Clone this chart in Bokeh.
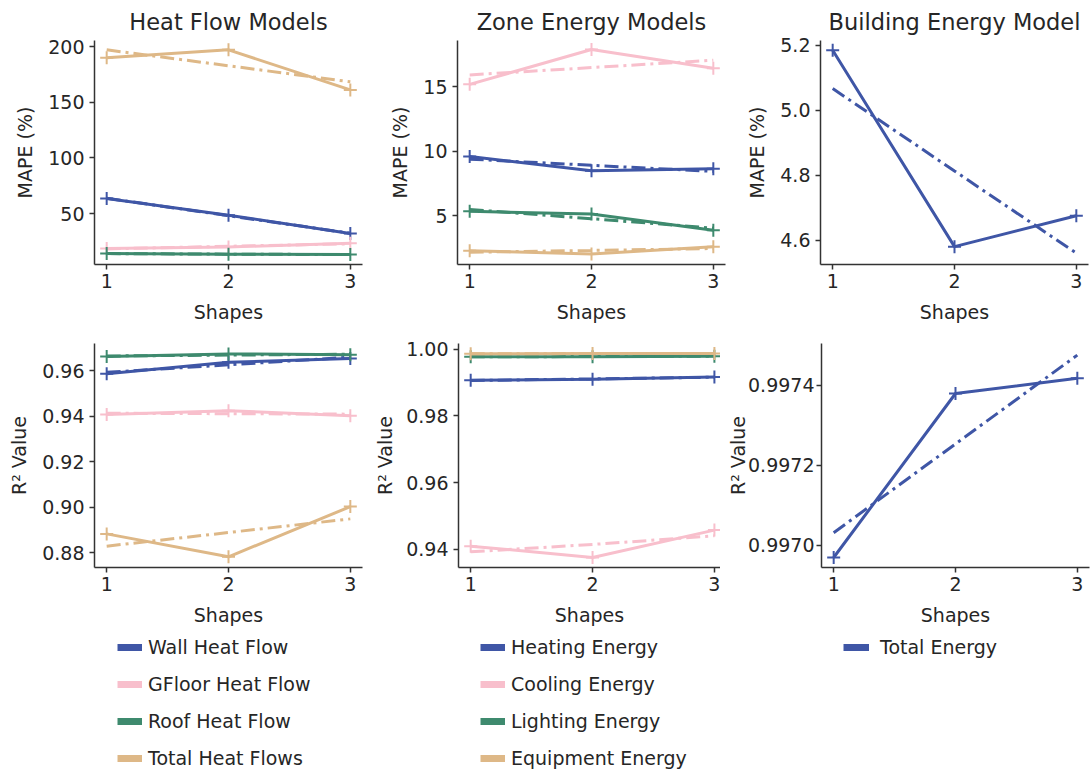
from bokeh.plotting import figure
from bokeh.layouts import column, row
from bokeh.models import Legend, LegendItem, Range1d, FixedTicker, NumeralTickFormatter
from bokeh.embed import file_html
from bokeh.resources import INLINE

# ---------------- data ----------------
shapes = [1, 2, 3]

# Heat Flow Models - MAPE (%)
wall_mape = [63.5, 48.5, 32.0]
wall_mape_fit = [63.7, 48.0, 32.3]
gfloor_mape = [18.5, 20.0, 23.3]
gfloor_mape_fit = [18.2, 20.6, 22.8]
roof_mape = [14.0, 13.5, 13.1]
roof_mape_fit = [14.0, 13.5, 13.1]
total_mape = [190.0, 197.0, 161.0]
total_mape_fit = [197.0, 182.7, 168.3]

# Zone Energy Models - MAPE (%)
heating_mape = [9.6, 8.5, 8.65]
heating_mape_fit = [9.4, 8.92, 8.45]
cooling_mape = [15.2, 17.9, 16.45]
cooling_mape_fit = [15.93, 16.5, 17.07]
lighting_mape = [5.35, 5.15, 3.88]
lighting_mape_fit = [5.5, 4.78, 4.05]
equipment_mape = [2.3, 2.05, 2.6]
equipment_mape_fit = [2.18, 2.32, 2.47]

# Building Energy Model - MAPE (%)
building_mape = [5.185, 4.58, 4.675]
building_mape_fit = [5.067, 4.813, 4.56]

# Heat Flow Models - R2
wall_r2 = [0.9587, 0.9637, 0.9654]
wall_r2_fit = [0.9593, 0.9626, 0.9660]
gfloor_r2 = [0.9407, 0.9424, 0.9402]
gfloor_r2_fit = [0.9413, 0.9411, 0.9409]
roof_r2 = [0.9663, 0.9674, 0.9671]
roof_r2_fit = [0.9665, 0.9669, 0.9673]
total_r2 = [0.8882, 0.8781, 0.9002]
total_r2_fit = [0.8828, 0.8888, 0.8948]

# Zone Energy Models - R2
heating_r2 = [0.9907, 0.9910, 0.9917]
heating_r2_fit = [0.9906, 0.9911, 0.9916]
cooling_r2 = [0.9410, 0.9376, 0.9458]
cooling_r2_fit = [0.9393, 0.9415, 0.9441]
lighting_r2 = [0.9977, 0.9977, 0.9979]
lighting_r2_fit = [0.9977, 0.9978, 0.9979]
equipment_r2 = [0.9986, 0.9987, 0.9987]
equipment_r2_fit = [0.9986, 0.9987, 0.9987]

# Building Energy Model - R2
building_r2 = [0.996969, 0.997379, 0.997417]
building_r2_fit = [0.997031, 0.997253, 0.997475]

heat_labels = ["Wall Heat Flow", "GFloor Heat Flow", "Roof Heat Flow", "Total Heat Flows"]
zone_labels = ["Heating Energy", "Cooling Energy", "Lighting Energy", "Equipment Energy"]
building_labels = ["Total Energy"]

titles = ["Heat Flow Models", "Zone Energy Models", "Building Energy Model"]

# ---------------- style ----------------
FONT = "DejaVu Sans"
TXT = "#262626"
AX = "#333333"
BLUE = "#3f56a6"
PINK = "#f8bfcc"
GREEN = "#3e8a6e"
TAN = "#deb887"
COLORS = [BLUE, PINK, GREEN, TAN]
DASHDOT = "14 5 3 5"


def make_fig(bl, br, bt, bb, fw, x_end, yr, yticks, fmt, ylabel, title=None,
             ytick_standoff=5, ylabel_standoff=9):
    p = figure(frame_width=fw, frame_height=224,
               min_border_left=bl, min_border_right=br,
               min_border_top=bt, min_border_bottom=bb,
               x_range=Range1d(0.9, x_end), y_range=Range1d(*yr),
               output_backend="svg", toolbar_location=None,
               outline_line_color=None, background_fill_color="white",
               border_fill_color="white", title=title)
    p.grid.visible = False
    if title:
        p.title.align = "center"
        p.title.text_font = FONT
        p.title.text_font_size = "22.5px"
        p.title.text_font_style = "normal"
        p.title.text_color = TXT
        p.title.standoff = 12
    for ax in (p.xaxis[0], p.yaxis[0]):
        ax.axis_line_color = AX
        ax.axis_line_width = 1.5
        ax.major_tick_line_color = AX
        ax.major_tick_line_width = 1.5
        ax.major_tick_out = 5
        ax.major_tick_in = 0
        ax.minor_tick_line_color = None
        ax.major_label_text_font = FONT
        ax.major_label_text_font_size = "19px"
        ax.major_label_text_color = TXT
        ax.axis_label_text_font = FONT
        ax.axis_label_text_font_size = "19px"
        ax.axis_label_text_font_style = "normal"
        ax.axis_label_text_color = TXT
    p.xaxis[0].ticker = FixedTicker(ticks=shapes)
    p.xaxis[0].axis_label = "Shapes"
    p.xaxis[0].major_label_standoff = 4
    p.xaxis[0].axis_label_standoff = 10
    p.yaxis[0].ticker = FixedTicker(ticks=yticks)
    p.yaxis[0].formatter = NumeralTickFormatter(format=fmt)
    p.yaxis[0].axis_label = ylabel
    p.yaxis[0].major_label_standoff = ytick_standoff
    p.yaxis[0].axis_label_standoff = ylabel_standoff
    return p


def draw(p, series, fits, colors):
    for vals, fit, c in zip(series, fits, colors):
        p.line(shapes, vals, line_color=c, line_width=3)
        p.scatter(shapes, vals, marker="cross", size=13, line_color=c, line_width=2)
        p.line(shapes, fit, line_color=c, line_width=3, line_dash=DASHDOT)


LEG_H = 139


def legend_fig(width, series, labels, colors, glyph_w=25, standoff=6):
    p = figure(width=width, height=LEG_H, min_border=0,
               x_range=Range1d(0, 1), y_range=Range1d(0, 1),
               x_axis_location=None, y_axis_location=None,
               output_backend="svg", toolbar_location=None,
               outline_line_color=None, background_fill_color="white",
               border_fill_color="white")
    p.grid.visible = False
    items = []
    for vals, lab, c in zip(series, labels, colors):
        r = p.line(shapes, vals, line_color=c, line_width=7, visible=False)
        items.append(LegendItem(label=lab, renderers=[r]))
    n = len(items)
    h = n * 22 + (n - 1) * 15
    leg = Legend(items=items, location=(117, LEG_H - 5 - h), orientation="vertical",
                 glyph_width=glyph_w, glyph_height=22, label_height=22,
                 label_standoff=standoff, spacing=15, padding=0, margin=0,
                 border_line_color=None, background_fill_alpha=0,
                 inactive_fill_alpha=0, label_text_font=FONT,
                 label_text_font_size="19px", label_text_color=TXT)
    p.add_layout(leg)
    return p


# ---------------- top row (MAPE) ----------------
p1 = make_fig(94, 1, 40, 64, 268, 3.1, (4.2, 205.4), [50, 100, 150, 200], "0",
              "MAPE (%)", titles[0])
draw(p1, [wall_mape, gfloor_mape, roof_mape, total_mape],
     [wall_mape_fit, gfloor_mape_fit, roof_mape_fit, total_mape_fit], COLORS)

p2 = make_fig(94, 1, 40, 64, 268, 3.1, (1.23, 18.6), [5, 10, 15], "0",
              "MAPE (%)", titles[1])
draw(p2, [heating_mape, cooling_mape, lighting_mape, equipment_mape],
     [heating_mape_fit, cooling_mape_fit, lighting_mape_fit, equipment_mape_fit], COLORS)

p3 = make_fig(94, 3, 40, 64, 268, 3.1, (4.525, 5.215), [4.6, 4.8, 5.0, 5.2], "0.0",
              "MAPE (%)", titles[2])
draw(p3, [building_mape], [building_mape_fit], [BLUE])

# ---------------- bottom row (R2) ----------------
p4 = make_fig(94, 9, 15, 64, 268, 3.1, (0.8734, 0.972), [0.88, 0.90, 0.92, 0.94, 0.96],
              "0.00", "R² Value")
draw(p4, [wall_r2, gfloor_r2, roof_r2, total_r2],
     [wall_r2_fit, gfloor_r2_fit, roof_r2_fit, total_r2_fit], COLORS)

p5 = make_fig(86, 0, 15, 64, 262, 3.05, (0.9346, 1.0017), [0.94, 0.96, 0.98, 1.00],
              "0.00", "R² Value", ylabel_standoff=7)
draw(p5, [heating_r2, cooling_r2, lighting_r2, equipment_r2],
     [heating_r2_fit, cooling_r2_fit, lighting_r2_fit, equipment_r2_fit], COLORS)

p6 = make_fig(101, 3, 15, 64, 268, 3.1, (0.996944, 0.997504), [0.9970, 0.9972, 0.9974],
              "0.0000", "R² Value", ytick_standoff=2, ylabel_standoff=-4)
draw(p6, [building_r2], [building_r2_fit], [BLUE])

# ---------------- legends ----------------
l1 = legend_fig(363, [wall_r2, gfloor_r2, roof_r2, total_r2], heat_labels, COLORS)
l2 = legend_fig(363, [heating_r2, cooling_r2, lighting_r2, equipment_r2], zone_labels, COLORS)
l3 = legend_fig(365, [building_r2], building_labels, [BLUE], glyph_w=26, standoff=11)

layout = column(row(p1, p2, p3), row(p4, p5, p6), row(l1, l2, l3))

open("out.html", "w").write(file_html(layout, INLINE))
